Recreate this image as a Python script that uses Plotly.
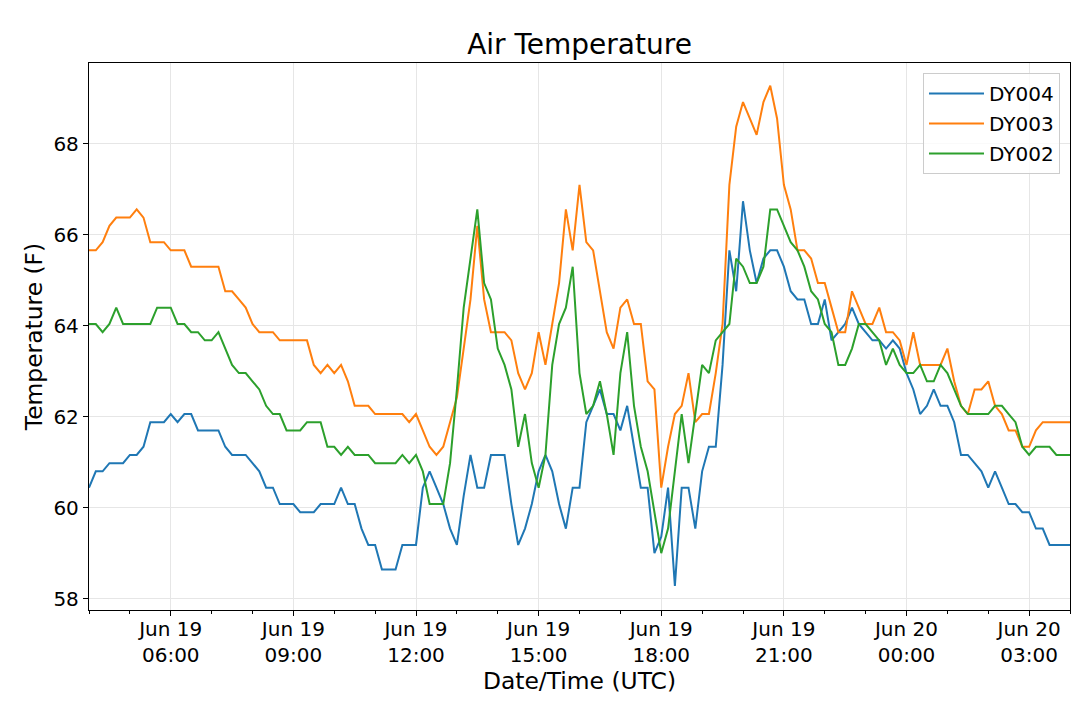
import pandas as pd
import plotly.graph_objects as go

# 10-minute readings, Jun 19 04:00 -> Jun 20 04:00 (UTC)
times = pd.date_range("2019-06-19 04:00", periods=145, freq="10min")

dy004 = [
    60.44, 60.8, 60.8, 60.98, 60.98, 60.98, 61.16, 61.16, 61.34, 61.88, 61.88, 61.88,
    62.06, 61.88, 62.06, 62.06, 61.7, 61.7, 61.7, 61.7, 61.34, 61.16, 61.16, 61.16,
    60.98, 60.8, 60.44, 60.44, 60.08, 60.08, 60.08, 59.9, 59.9, 59.9, 60.08, 60.08,
    60.08, 60.44, 60.08, 60.08, 59.54, 59.18, 59.18, 58.64, 58.64, 58.64, 59.18, 59.18,
    59.18, 60.44, 60.8, 60.44, 60.08, 59.54, 59.18, 60.26, 61.16, 60.44, 60.44, 61.16,
    61.16, 61.16, 60.08, 59.18, 59.54, 60.08, 60.8, 61.16, 60.8, 60.08, 59.54, 60.44,
    60.44, 61.88, 62.24, 62.6, 62.06, 62.06, 61.7, 62.24, 61.34, 60.44, 60.44, 59.0,
    59.36, 60.44, 58.28, 60.44, 60.44, 59.54, 60.8, 61.34, 61.34, 63.14, 65.66, 64.76,
    66.74, 65.66, 64.94, 65.48, 65.66, 65.66, 65.3, 64.76, 64.58, 64.58, 64.04, 64.04,
    64.58, 63.68, 63.86, 64.04, 64.4, 64.04, 63.86, 63.68, 63.68, 63.5, 63.68, 63.5,
    62.96, 62.6, 62.06, 62.24, 62.6, 62.24, 62.24, 61.88, 61.16, 61.16, 60.98, 60.8,
    60.44, 60.8, 60.44, 60.08, 60.08, 59.9, 59.9, 59.54, 59.54, 59.18, 59.18, 59.18,
    59.18,
]

dy003 = [
    65.66, 65.66, 65.84, 66.2, 66.38, 66.38, 66.38, 66.56, 66.38, 65.84, 65.84, 65.84,
    65.66, 65.66, 65.66, 65.3, 65.3, 65.3, 65.3, 65.3, 64.76, 64.76, 64.58, 64.4,
    64.04, 63.86, 63.86, 63.86, 63.68, 63.68, 63.68, 63.68, 63.68, 63.14, 62.96, 63.14,
    62.96, 63.14, 62.78, 62.24, 62.24, 62.24, 62.06, 62.06, 62.06, 62.06, 62.06, 61.88,
    62.06, 61.7, 61.34, 61.16, 61.34, 61.88, 62.42, 63.5, 64.58, 66.2, 64.58, 63.86,
    63.86, 63.86, 63.68, 62.96, 62.6, 62.96, 63.86, 63.14, 64.04, 64.94, 66.56, 65.66,
    67.1, 65.84, 65.66, 64.76, 63.86, 63.5, 64.4, 64.58, 64.04, 64.04, 62.78, 62.6,
    60.44, 61.34, 62.06, 62.24, 62.96, 61.88, 62.06, 62.06, 62.96, 64.04, 67.1, 68.38,
    68.92, 68.56, 68.2, 68.92, 69.28, 68.56, 67.1, 66.56, 65.66, 65.66, 65.48, 64.94,
    64.94, 64.4, 63.86, 63.86, 64.76, 64.4, 64.04, 64.04, 64.4, 63.86, 63.86, 63.68,
    63.14, 63.86, 63.14, 63.14, 63.14, 63.14, 63.5, 62.78, 62.24, 62.06, 62.6, 62.6,
    62.78, 62.24, 62.06, 61.7, 61.7, 61.34, 61.34, 61.7, 61.88, 61.88, 61.88, 61.88,
    61.88,
]

dy002 = [
    64.04, 64.04, 63.86, 64.04, 64.4, 64.04, 64.04, 64.04, 64.04, 64.04, 64.4, 64.4,
    64.4, 64.04, 64.04, 63.86, 63.86, 63.68, 63.68, 63.86, 63.5, 63.14, 62.96, 62.96,
    62.78, 62.6, 62.24, 62.06, 62.06, 61.7, 61.7, 61.7, 61.88, 61.88, 61.88, 61.34,
    61.34, 61.16, 61.34, 61.16, 61.16, 61.16, 60.98, 60.98, 60.98, 60.98, 61.16, 60.98,
    61.16, 60.8, 60.08, 60.08, 60.08, 60.98, 62.6, 64.4, 65.48, 66.56, 64.94, 64.58,
    63.5, 63.14, 62.6, 61.34, 62.06, 60.98, 60.44, 61.16, 63.14, 64.04, 64.4, 65.3,
    62.96, 62.06, 62.24, 62.78, 62.06, 61.16, 62.96, 63.86, 62.24, 61.34, 60.8, 59.9,
    59.0, 59.54, 60.8, 62.06, 60.98, 62.06, 63.14, 62.96, 63.68, 63.86, 64.04, 65.48,
    65.3, 64.94, 64.94, 65.3, 66.56, 66.56, 66.2, 65.84, 65.66, 65.3, 64.76, 64.58,
    64.04, 63.86, 63.14, 63.14, 63.5, 64.04, 64.04, 63.86, 63.68, 63.14, 63.5, 63.14,
    62.96, 62.96, 63.14, 62.78, 62.78, 63.14, 62.96, 62.6, 62.24, 62.06, 62.06, 62.06,
    62.06, 62.24, 62.24, 62.06, 61.88, 61.34, 61.16, 61.34, 61.34, 61.34, 61.16, 61.16,
    61.16,
]

series = [("DY004", dy004, "#1f77b4"), ("DY003", dy003, "#ff7f0e"), ("DY002", dy002, "#2ca02c")]

fig = go.Figure()
for name, vals, col in series:
    fig.add_trace(go.Scatter(x=times, y=vals, name=name, mode="lines",
                             legendgroup=name, line=dict(color=col, width=2)))

axis_style = dict(showline=True, linecolor="black", linewidth=1.3, mirror=True,
                  ticks="outside", ticklen=5, tickwidth=1.2, tickcolor="black",
                  showgrid=True, gridcolor="#e6e6e6", gridwidth=1, zeroline=False,
                  automargin=False, tickfont=dict(size=20, color="black"))

fig.update_xaxes(**axis_style,
                 range=["2019-06-19 04:00", "2019-06-20 04:00"],
                 tick0="2019-06-19 00:00", dtick=3 * 3600 * 1000,
                 tickformat="%b %d<br>%H:%M", ticklabelstandoff=-4,
                 minor=dict(dtick=3600 * 1000, ticks="outside", ticklen=3,
                            tickcolor="black", showgrid=False),
                 title=dict(text="Date/Time (UTC)", font=dict(size=23.4, color="black"), standoff=2))
fig.update_yaxes(**axis_style, range=[57.75, 69.78], dtick=2,
                 title=dict(text="Temperature (F)", font=dict(size=23.4, color="black"), standoff=4))

fig.update_layout(
    width=1080, height=706,
    margin=dict(l=89, r=10, t=63, b=96),
    paper_bgcolor="white", plot_bgcolor="white",
    font=dict(family="DejaVu Sans", color="black"),
    title=dict(text="Air Temperature", x=0.5366, xanchor="center", y=0.9377, yanchor="middle",
               yref="container", font=dict(size=28, color="black")),
    legend=dict(x=0.9898, y=0.9817, xanchor="right", yanchor="top",
                bgcolor="rgba(255,255,255,0.8)", bordercolor="#cccccc", borderwidth=1,
                font=dict(size=20, color="black"), traceorder="grouped", tracegroupgap=1,
                itemwidth=55),
)

# page body has an 8px default margin; drop it so the figure sits at 0,0
fig.write_html("out.html", config={"displayModeBar": False},
               post_script="document.body.style.margin='0';")
